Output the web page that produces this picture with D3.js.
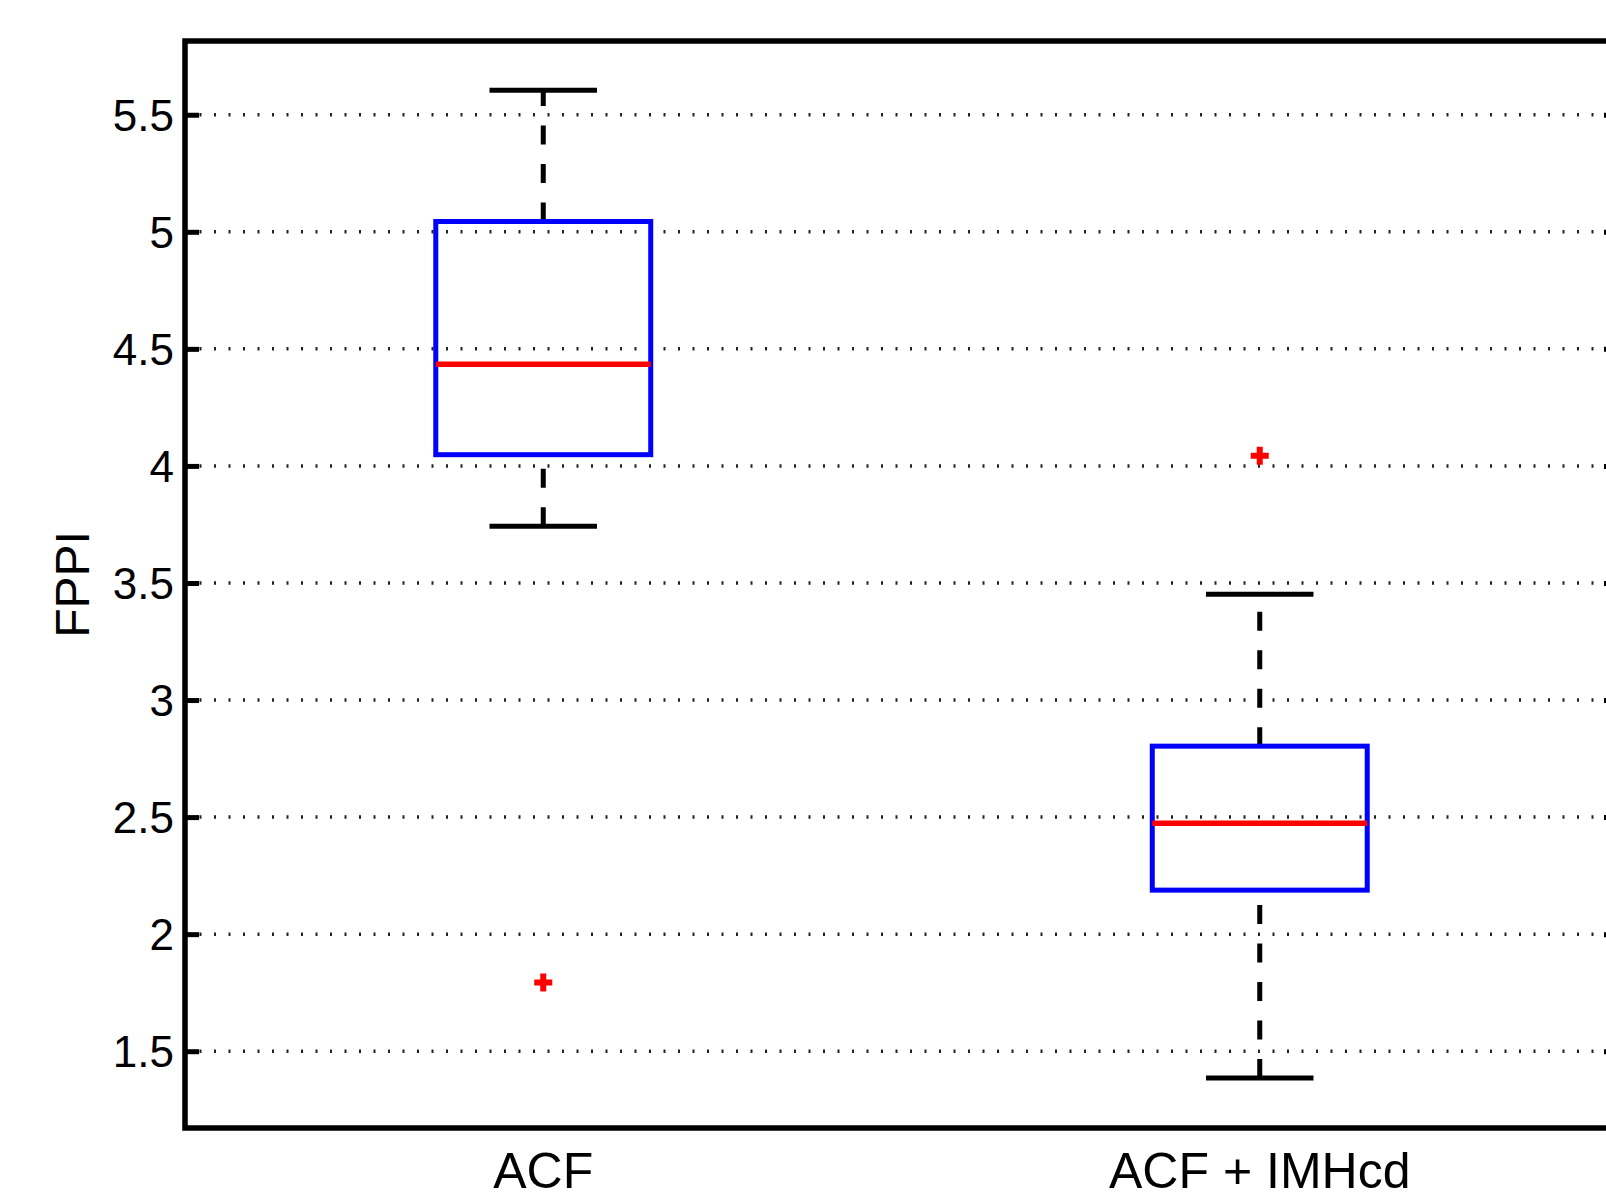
<!DOCTYPE html>
<html>
<head>
<meta charset="utf-8">
<style>
  body { margin: 0; background: #fff; }
  svg { display: block; font-family: "Liberation Sans", Arial, sans-serif; }
</style>
</head>
<body>
<svg width="1606" height="1193"></svg>
<script src="https://d3js.org/d3.v7.min.js"></script>
<script>

	// Data.
	var categories = ["ACF", "ACF + IMHcd"];
	var upperWhisker = [5.605, 3.452];
	var q3 = [5.044, 2.803];
	var median = [4.434, 2.474];
	var q1 = [4.048, 2.188];
	var lowerWhisker = [3.742, 1.386];
	var outliers = [[1.794], [4.043]];
	var yTicks = [1.5, 2, 2.5, 3, 3.5, 4, 4.5, 5, 5.5];
	var yLabel = "FPPI";

	// Set up svg.
	var svg = d3.select("svg"),
		pLeft = 185,
		pRight = 1618,
		pTop = 41,
		pBottom = 1128;

	var x = d3.scaleLinear().domain([0.5, categories.length + 0.5]).range([pLeft, pRight]);
	var y = d3.scaleLinear().domain([1.172, 5.815]).range([pBottom, pTop]);

	var boxHalf = 0.15,
		capHalf = 0.075;

	// Dotted grid lines.
	svg.append("g")
		.selectAll("line")
		.data(yTicks)
		.enter().append("line")
			.attr("x1", pLeft)
			.attr("x2", pRight)
			.attr("y1", function(d) { return y(d); })
			.attr("y2", function(d) { return y(d); })
			.style("stroke", "#222")
			.style("stroke-width", 3.5)
			.style("stroke-dasharray", "2,12.5");

	// Left and right axes with inward ticks.
	var yAxisL = svg.append("g")
		.attr("transform", "translate(" + pLeft + ",0)")
		.call(d3.axisRight(y).tickValues(yTicks).tickSize(14).tickFormat(""));
	var yAxisR = svg.append("g")
		.attr("transform", "translate(" + pRight + ",0)")
		.call(d3.axisLeft(y).tickValues(yTicks).tickSize(14).tickFormat(""));
	[yAxisL, yAxisR].forEach(function(a) {
		a.select(".domain").remove();
		a.selectAll(".tick line").style("stroke", "#000").style("stroke-width", 5);
	});

	// Tick labels.
	svg.append("g")
		.selectAll("text")
		.data(yTicks)
		.enter().append("text")
			.attr("x", pLeft - 11)
			.attr("y", function(d) { return y(d); })
			.attr("dy", "0.36em")
			.attr("text-anchor", "end")
			.style("font-size", "44px")
			.text(function(d) { return d; });

	svg.append("g")
		.selectAll("text")
		.data(categories)
		.enter().append("text")
			.attr("x", function(d, i) { return x(i + 1); })
			.attr("y", 1188)
			.attr("text-anchor", "middle")
			.style("font-size", "50px")
			.text(function(d) { return d; });

	svg.append("text")
		.attr("transform", "translate(89," + ((pTop + pBottom) / 2) + ") rotate(-90)")
		.attr("text-anchor", "middle")
		.style("font-size", "48px")
		.text(yLabel);

	// Boxes.
	var boxes = svg.append("g")
		.selectAll("g")
		.data(categories)
		.enter().append("g");

	// whiskers are dashed, starting from the first value given
	function whisker(sel, from, to) {
		sel.append("line")
			.attr("x1", function(d, i) { return x(i + 1); })
			.attr("x2", function(d, i) { return x(i + 1); })
			.attr("y1", function(d, i) { return y(from[i]); })
			.attr("y2", function(d, i) { return y(to[i]); })
			.style("stroke", "#000")
			.style("stroke-width", 5)
			.style("stroke-dasharray", "19,19.5");
	}
	function hline(sel, vals, half, color, w) {
		sel.append("line")
			.attr("x1", function(d, i) { return x(i + 1 - half); })
			.attr("x2", function(d, i) { return x(i + 1 + half); })
			.attr("y1", function(d, i) { return y(vals[i]); })
			.attr("y2", function(d, i) { return y(vals[i]); })
			.style("stroke", color)
			.style("stroke-width", w);
	}

	whisker(boxes, q3, upperWhisker);
	whisker(boxes, lowerWhisker, q1);
	hline(boxes, upperWhisker, capHalf, "#000", 5);
	hline(boxes, lowerWhisker, capHalf, "#000", 5);

	boxes.append("rect")
		.attr("x", function(d, i) { return x(i + 1 - boxHalf); })
		.attr("width", function(d, i) { return x(i + 1 + boxHalf) - x(i + 1 - boxHalf); })
		.attr("y", function(d, i) { return y(q3[i]); })
		.attr("height", function(d, i) { return y(q1[i]) - y(q3[i]); })
		.style("fill", "none")
		.style("stroke", "#0000ff")
		.style("stroke-width", 5);

	hline(boxes, median, boxHalf, "#ff0000", 5.5);

	// Outliers as red plus signs.
	boxes.each(function(d, i) {
		d3.select(this).selectAll("path")
			.data(outliers[i])
			.enter().append("path")
				.attr("d", function(v) {
					var cx = x(i + 1), cy = y(v);
					return "M" + (cx - 9) + "," + cy + "H" + (cx + 9) + "M" + cx + "," + (cy - 9) + "V" + (cy + 9);
				})
				.style("stroke", "#ff0000")
				.style("stroke-width", 6);
	});

	// Plot frame.
	svg.append("rect")
		.attr("x", pLeft)
		.attr("y", pTop)
		.attr("width", pRight - pLeft)
		.attr("height", pBottom - pTop)
		.style("fill", "none")
		.style("stroke", "#000")
		.style("stroke-width", 5.5);

</script>
</body>
</html>
